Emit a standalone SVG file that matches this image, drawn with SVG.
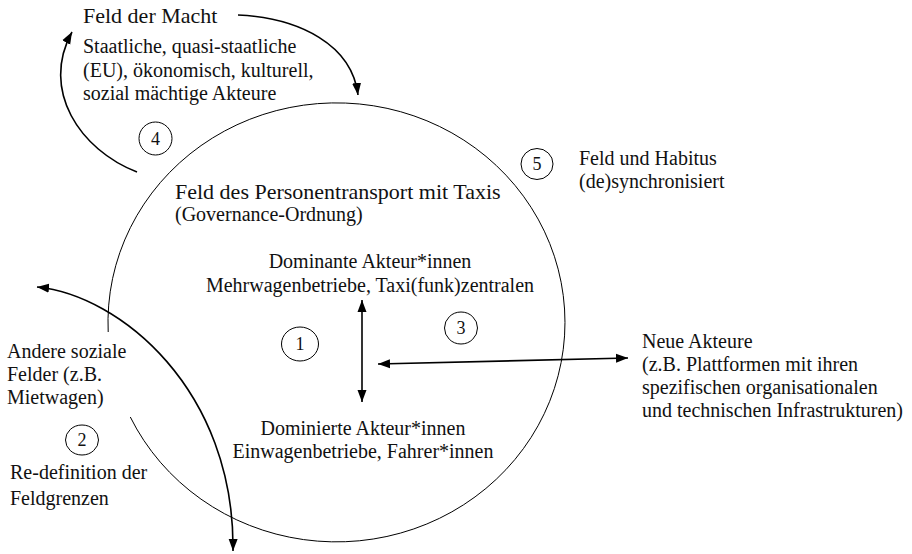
<svg xmlns="http://www.w3.org/2000/svg" width="912" height="554" viewBox="0 0 912 554">
<defs>
<marker id="ah" viewBox="0 0 12 10" refX="12" refY="5" markerWidth="12" markerHeight="10" markerUnits="userSpaceOnUse" orient="auto-start-reverse">
<path d="M0 0.5 L12 5 L0 9.5 z" fill="#000"/>
</marker>
</defs>
<style>
.ring{fill:none;stroke:#000;stroke-width:1}
.conn{fill:none;stroke:#000;stroke-width:1.6}
</style>
<rect width="912" height="554" fill="#fff"/>
<g font-family="'Liberation Serif', 'DejaVu Serif', 'Times New Roman', serif" font-size="20" fill="#111">
<g id="field-taxi">
<path class="ring" d="M130.3 417 A228.5 219.5 0 1 0 108.2 332"/>
<text font-size="22" x="175" y="199">Feld des Personentransport mit Taxis</text>
<text x="175" y="221">(Governance-Ordnung)</text>
</g>
<g id="feld-macht">
<text font-size="22" x="83" y="23">Feld der Macht</text>
<text x="83" y="53">Staatliche, quasi-staatliche</text>
<text x="83" y="77">(EU), ökonomisch, kulturell,</text>
<text x="83" y="100">sozial mächtige Akteure</text>
</g>
<g id="dominante" text-anchor="middle">
<text x="370" y="268">Dominante Akteur*innen</text>
<text x="370" y="292">Mehrwagenbetriebe, Taxi(funk)zentralen</text>
</g>
<g id="dominierte" text-anchor="middle">
<text x="363" y="435">Dominierte Akteur*innen</text>
<text x="363" y="458">Einwagenbetriebe, Fahrer*innen</text>
</g>
<g id="andere-felder">
<text x="7" y="358">Andere soziale</text>
<text x="7" y="381">Felder (z.B.</text>
<text x="7" y="404">Mietwagen)</text>
</g>
<g id="redefinition">
<text x="10" y="479">Re-definition der</text>
<text x="10" y="505">Feldgrenzen</text>
</g>
<g id="habitus">
<text x="579" y="165">Feld und Habitus</text>
<text x="579" y="188">(de)synchronisiert</text>
</g>
<g id="neue-akteure">
<text x="642" y="348">Neue Akteure</text>
<text x="642" y="371">(z.B. Plattformen mit ihren</text>
<text x="642" y="394">spezifischen organisationalen</text>
<text x="642" y="417">und technischen Infrastrukturen)</text>
</g>
<g text-anchor="middle" font-size="18">
<g id="n1"><ellipse class="ring" cx="300" cy="344" rx="18.5" ry="17"/><text x="300" y="350">1</text></g>
<g id="n2"><ellipse class="ring" cx="82" cy="440" rx="16.5" ry="15"/><text x="82" y="446">2</text></g>
<g id="n3"><ellipse class="ring" cx="461" cy="328" rx="16.5" ry="16"/><text x="461" y="334">3</text></g>
<g id="n4"><ellipse class="ring" cx="155.5" cy="138.5" rx="16.5" ry="16.5"/><text x="155.5" y="145">4</text></g>
<g id="n5"><ellipse class="ring" cx="537" cy="164" rx="16" ry="15.5"/><text x="537" y="170">5</text></g>
</g>
</g>
<g id="connectors">
<path class="conn" d="M238 15 C300 18 352 45 358 95" marker-end="url(#ah)"/>
<path class="conn" d="M137 172 C80 150 40 90 72 32" marker-end="url(#ah)"/>
<path class="conn" d="M233 551 C235 390 120 295 37 287" marker-start="url(#ah)" marker-end="url(#ah)"/>
<path class="conn" d="M362 300 L362 402" marker-start="url(#ah)" marker-end="url(#ah)"/>
<path class="conn" d="M378 364 L628 358" marker-start="url(#ah)" marker-end="url(#ah)"/>
</g>
</svg>
